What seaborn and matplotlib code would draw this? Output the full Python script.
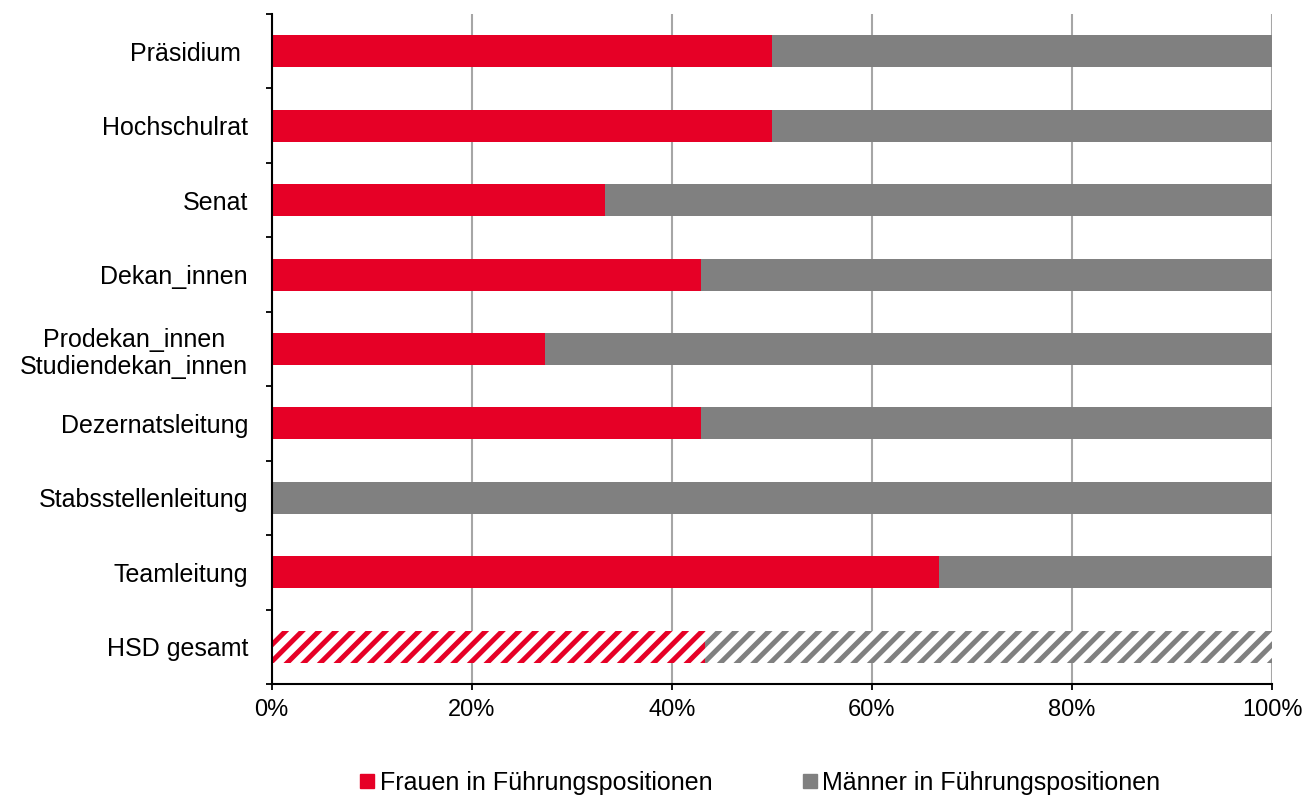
import pandas as pd
import numpy as np
import matplotlib
matplotlib.use('Agg')
import matplotlib.pyplot as plt
from matplotlib.lines import Line2D
from matplotlib.ticker import FixedLocator, PercentFormatter
import seaborn as sns

# --- Data ---
categories = ['Präsidium ', 'Hochschulrat', 'Senat', 'Dekan_innen',
              'Prodekan_innen\nStudiendekan_innen', 'Dezernatsleitung',
              'Stabsstellenleitung', 'Teamleitung', 'HSD gesamt']
frauen = [50.0, 50.0, 33.3, 42.9, 27.3, 42.9, 0.0, 66.7, 43.3]
maenner = [100 - f for f in frauen]

red = '#e60026'
grey = '#808080'

data = pd.DataFrame({'Kategorie': categories, 'Frauen': frauen, 'Maenner': maenner})
data['Gesamt'] = data['Frauen'] + data['Maenner']

sns.set_style('white')
plt.rcParams['font.family'] = ['Liberation Sans', 'DejaVu Sans']
plt.rcParams['text.color'] = 'black'
plt.rcParams['xtick.color'] = 'black'
plt.rcParams['ytick.color'] = 'black'
plt.rcParams['hatch.linewidth'] = 3.6

fig = plt.figure(figsize=(13.06, 8), dpi=100)
ax = fig.add_axes([0.208, 0.145, 0.766, 0.8375])

# stacked bars: full bar in grey, women in red on top
sns.barplot(data=data, x='Gesamt', y='Kategorie', color=grey, width=0.43,
            saturation=1, ax=ax, orient='h')
sns.barplot(data=data, x='Frauen', y='Kategorie', color=red, width=0.43,
            saturation=1, ax=ax, orient='h')

n = len(categories)
for p in ax.patches:
    p.set_linewidth(0)
# hatched total bar
for idx, col in [(n - 1, grey), (2 * n - 1, red)]:
    p = ax.patches[idx]
    p.set_facecolor('white')
    p.set_edgecolor(col)
    p.set_hatch('//')
    if hasattr(p, 'set_hatch_linewidth'):
        p.set_hatch_linewidth(3.6)
    p.set_linewidth(0)

ax.set_xlim(0, 100)
ax.set_ylim(n - 0.5, -0.5)
ax.xaxis.set_major_formatter(PercentFormatter(decimals=0))
ax.set_xticks([0, 20, 40, 60, 80, 100])
ax.grid(axis='x', color='#a6a6a6', linewidth=1.5)
ax.set_axisbelow(True)
ax.set_xlabel('')
ax.set_ylabel('')

for s in ['top', 'right']:
    ax.spines[s].set_visible(False)
for s in ['left', 'bottom']:
    ax.spines[s].set_color('black')
    ax.spines[s].set_linewidth(1.5)

ax.tick_params(axis='x', labelsize=17, length=4.5, width=1.3, color='black',
               labelcolor='black', direction='out', bottom=True, pad=6)
ax.tick_params(axis='y', which='major', labelsize=18, length=0, pad=17,
               labelcolor='black')
ax.yaxis.set_minor_locator(FixedLocator(np.arange(-0.5, n, 1.0)))
ax.tick_params(axis='y', which='minor', length=4.5, width=1.3, color='black',
               direction='out', left=True)
for lab in ax.get_yticklabels():
    lab.set_multialignment('center')

handles = [Line2D([], [], marker='s', linestyle='', color=red, markersize=10),
           Line2D([], [], marker='s', linestyle='', color=grey, markersize=10)]
fig.legend(handles, ['Frauen in Führungspositionen', 'Männer in Führungspositionen'],
           loc='lower center', bbox_to_anchor=(0.58, -0.022), ncol=2, frameon=False,
           fontsize=18, handletextpad=0.0, columnspacing=3.4, handlelength=1.0)

fig.savefig('out.png', dpi=100)
